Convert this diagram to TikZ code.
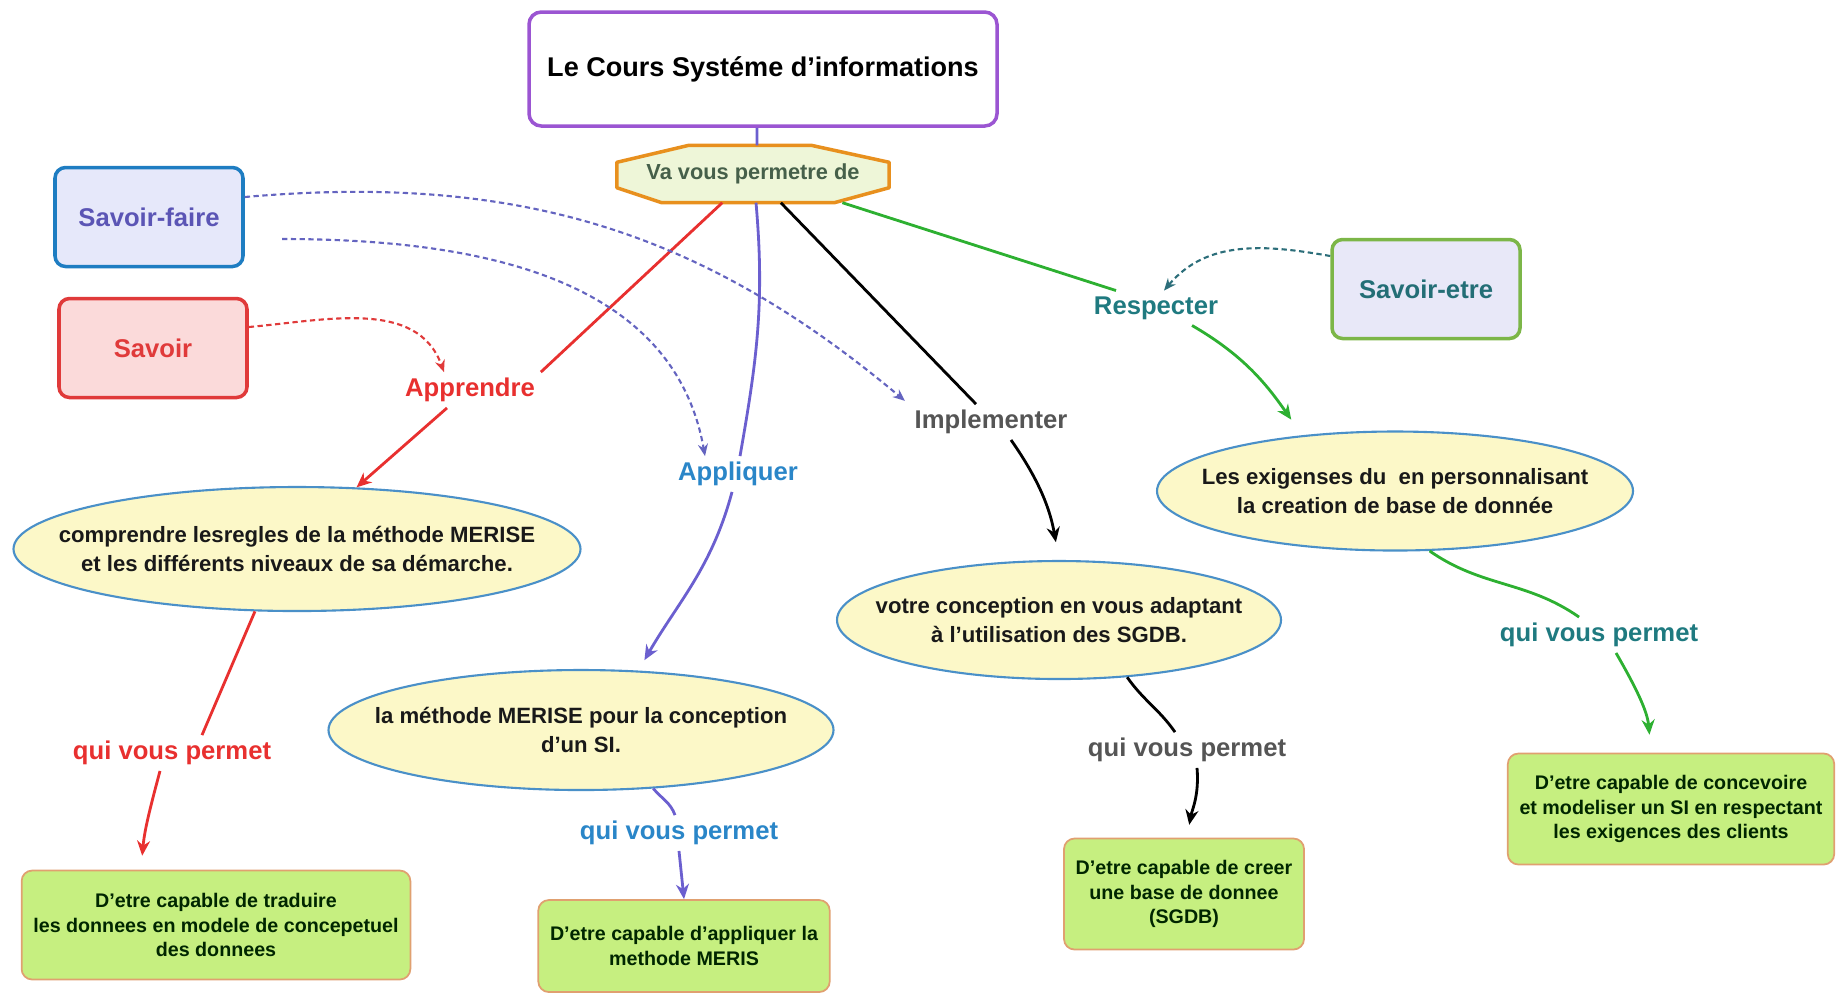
\documentclass[tikz,border=0pt]{standalone}
\usepackage{fontspec}
\setmainfont{Liberation Sans}
\usetikzlibrary{arrows.meta,shapes.geometric,backgrounds}

\definecolor{titleborder}{HTML}{9B55D2}
\definecolor{octborder}{HTML}{E8901E}
\definecolor{octfill}{HTML}{EEF6D8}
\definecolor{octtext}{HTML}{46604A}
\definecolor{sfborder}{HTML}{1E7DC2}
\definecolor{sffill}{HTML}{E6E8FA}
\definecolor{sftext}{HTML}{5B55B5}
\definecolor{svborder}{HTML}{E03A3A}
\definecolor{svfill}{HTML}{FBDADA}
\definecolor{seborder}{HTML}{7CB648}
\definecolor{sefill}{HTML}{E8E8F8}
\definecolor{setext}{HTML}{236E76}
\definecolor{ellborder}{HTML}{4A90C8}
\definecolor{ellfill}{HTML}{FCF8C8}
\definecolor{resfill}{HTML}{C6EF80}
\definecolor{resborder}{HTML}{E0A070}
\definecolor{redlink}{HTML}{E8302F}
\definecolor{purplelink}{HTML}{6B5FCF}
\definecolor{bluetext}{HTML}{2A86C8}
\definecolor{greylink}{HTML}{555555}
\definecolor{greenlink}{HTML}{2DB031}
\definecolor{teallink}{HTML}{1F7A80}
\definecolor{dashblue}{HTML}{6464C0}
\definecolor{dashteal}{HTML}{2C6E7A}

\begin{document}
\begin{tikzpicture}[
  titlebox/.style={
    draw=titleborder,
    fill=white,
    line width=1pt,
    rounded corners=3.5pt,
    minimum width=4.68cm,
    minimum height=1.14cm,
    font=\fontsize{7.7}{9}\selectfont\bfseries
  },
  octnode/.style={
    minimum width=2.71cm,
    minimum height=0.56cm,
    inner sep=0pt,
    text=octtext,
    font=\fontsize{6.2}{7.5}\selectfont\bfseries
  },
  octline/.style={
    draw=octborder,
    fill=octfill,
    line width=1pt,
    line join=round
  },
  srcbox/.style={
    line width=1pt,
    rounded corners=3pt,
    minimum width=1.88cm,
    minimum height=0.99cm,
    font=\fontsize{7.3}{8.8}\selectfont\bfseries
  },
  idea/.style={
    ellipse,
    draw=ellborder,
    fill=ellfill,
    line width=0.6pt,
    inner xsep=-0.6cm,
    inner ysep=0pt,
    align=center,
    text=black!90,
    font=\fontsize{6.3}{8.4}\selectfont\bfseries
  },
  resbox/.style={
    draw=resborder,
    fill=resfill,
    line width=0.5pt,
    rounded corners=3pt,
    align=center,
    text=black!85!green,
    font=\fontsize{5.6}{7}\selectfont\bfseries
  },
  linklabel/.style={
    inner sep=1.5pt,
    font=\fontsize{7.3}{8.8}\selectfont\bfseries
  },
  seg/.style={
    line width=0.8pt
  },
  conn/.style={
    -{Stealth[length=1.5mm,width=1.3mm]},
    line width=0.8pt
  },
  dashconn/.style={
    -{Stealth[length=1.2mm,width=1mm]},
    line width=0.6pt,
    dash pattern=on 1.5pt off 1pt
  }
]

\path[use as bounding box] (0,0) rectangle (18.43,-9.95);

\node[titlebox] (cours) at (7.63,-0.69) {Le Cours Systéme d'informations};
\node[octnode] (va) at (7.53,-1.74) {Va vous permetre de};
\begin{scope}[on background layer]
\draw[octline] ([xshift=0.72cm]va.north west) -- ([xshift=-0.78cm]va.north east)
  -- ([yshift=-0.17cm]va.north east) -- ([yshift=0.15cm]va.south east)
  -- ([xshift=-0.55cm]va.south east) -- ([xshift=0.45cm]va.south west)
  -- ([yshift=0.15cm]va.south west) -- ([yshift=-0.17cm]va.north west) -- cycle;
\end{scope}

\node[srcbox, draw=sfborder, fill=sffill, text=sftext] (sf) at (1.49,-2.17) {Savoir-faire};
\node[srcbox, draw=svborder, fill=svfill, text=svborder] (sv) at (1.53,-3.48) {Savoir};
\node[srcbox, draw=seborder, fill=sefill, text=setext] (se) at (14.26,-2.89) {Savoir-etre};
\coordinate (sfstart) at (2.82,-2.39);

\node[linklabel, text=redlink] (appr) at (4.70,-3.90) {Apprendre};
\node[linklabel, text=bluetext] (appl) at (7.38,-4.74) {Appliquer};
\node[linklabel, text=greylink] (impl) at (9.91,-4.22) {Implementer};
\node[linklabel, text=teallink] (resp) at (11.56,-3.08) {Respecter};

\node[idea, minimum width=5.67cm, minimum height=1.24cm] (e1) at (2.97,-5.49)
  {comprendre lesregles de la méthode MERISE\\et les différents niveaux de sa démarche.};
\node[idea, minimum width=5.05cm, minimum height=1.20cm] (e2) at (5.81,-7.30)
  {la méthode MERISE pour la conception\\d'un SI.};
\node[idea, minimum width=4.44cm, minimum height=1.18cm] (e3) at (10.59,-6.20)
  {votre conception en vous adaptant\\à l'utilisation des SGDB.};
\node[idea, minimum width=4.76cm, minimum height=1.19cm] (e4) at (13.95,-4.91)
  {Les exigenses du\ \ en personnalisant\\la creation de base de donnée};

\node[linklabel, text=redlink] (qvp1) at (1.72,-7.53) {qui vous permet};
\node[linklabel, text=bluetext] (qvp2) at (6.79,-8.33) {qui vous permet};
\node[linklabel, text=greylink] (qvp3) at (11.87,-7.50) {qui vous permet};
\node[linklabel, text=teallink] (qvp4) at (15.99,-6.35) {qui vous permet};

\node[resbox, minimum width=3.82cm, minimum height=1.09cm] (b1) at (2.16,-9.25)
  {D'etre capable de traduire\\les donnees en modele de concepetuel\\des donnees};
\node[resbox, minimum width=2.84cm, minimum height=0.92cm] (b2) at (6.84,-9.46)
  {D'etre capable d'appliquer la\\methode MERIS};
\node[resbox, minimum width=2.33cm, minimum height=1.11cm] (b3) at (11.84,-8.94)
  {D'etre capable de creer\\une base de donnee\\(SGDB)};
\node[resbox, minimum width=3.17cm, minimum height=1.11cm] (b4) at (16.71,-8.09)
  {D'etre capable de concevoire\\et modeliser un SI en respectant\\les exigences des clients};

% Apprendre
\draw[seg, redlink] (va) -- (appr.north east);
\draw[conn, redlink] ([xshift=-0.23cm]appr.south) -- (e1.46);
\draw[seg, redlink] (e1.-124) -- ([xshift=0.3cm]qvp1.north);
\draw[conn, redlink, shorten >=0.14cm] ([xshift=-0.12cm]qvp1.south) to[out=-105,in=85] ([xshift=-0.75cm]b1.north);

% Appliquer
\draw[seg, purplelink] ([xshift=-0.06cm]cours.south) -- ([xshift=0.04cm]va.north);
\draw[seg, purplelink] ([xshift=0.03cm]va.south) to[out=-85,in=80] ([xshift=0.02cm]appl.north);
\draw[conn, purplelink, shorten >=0.12cm] ([xshift=-0.06cm]appl.south) to[out=-105,in=60] (e2.46);
\draw[seg, purplelink] (e2.-39) to[out=-50,in=110] ([xshift=-0.04cm]qvp2.north);
\draw[conn, purplelink] (qvp2.south) -- (b2.north);

% Implementer
\draw[seg] (va) -- ([xshift=-0.15cm]impl.north);
\draw[conn, shorten >=0.18cm] ([xshift=0.2cm]impl.south) to[out=-55,in=100] (e3.north);
\draw[seg] (e3.-40) to[out=-55,in=125] ([xshift=-0.12cm]qvp3.north);
\draw[conn, shorten >=0.13cm] ([xshift=0.1cm]qvp3.south) to[out=-85,in=80] ([xshift=0.03cm]b3.north);

% Respecter
\draw[seg, greenlink] (va) -- ([xshift=-0.4cm]resp.north);
\draw[conn, greenlink, shorten >=0.19cm] ([xshift=0.36cm]resp.south) to[out=-30,in=125] (e4.149);
\draw[seg, greenlink] (e4.-60) to[out=-35,in=145] ([xshift=-0.2cm]qvp4.north);
\draw[conn, greenlink, shorten >=0.18cm] ([xshift=0.17cm]qvp4.south) to[out=-60,in=95] ([xshift=-0.2cm]b4.north);

% savoirs
\draw[dashconn, dashblue, shorten >=0.05cm] ([yshift=0.2cm]sf.east) to[out=5,in=140] (impl.north west);
\draw[dashconn, dashblue] (sfstart) to[out=0,in=100] ([xshift=-0.33cm]appl.north);
\draw[dashconn, svborder] ([yshift=0.21cm]sv.east) to[out=5,in=110] ([xshift=-0.26cm]appr.north);
\draw[dashconn, dashteal] ([yshift=0.33cm]se.west) to[out=170,in=50] ([xshift=0.08cm]resp.north);

\end{tikzpicture}
\end{document}
